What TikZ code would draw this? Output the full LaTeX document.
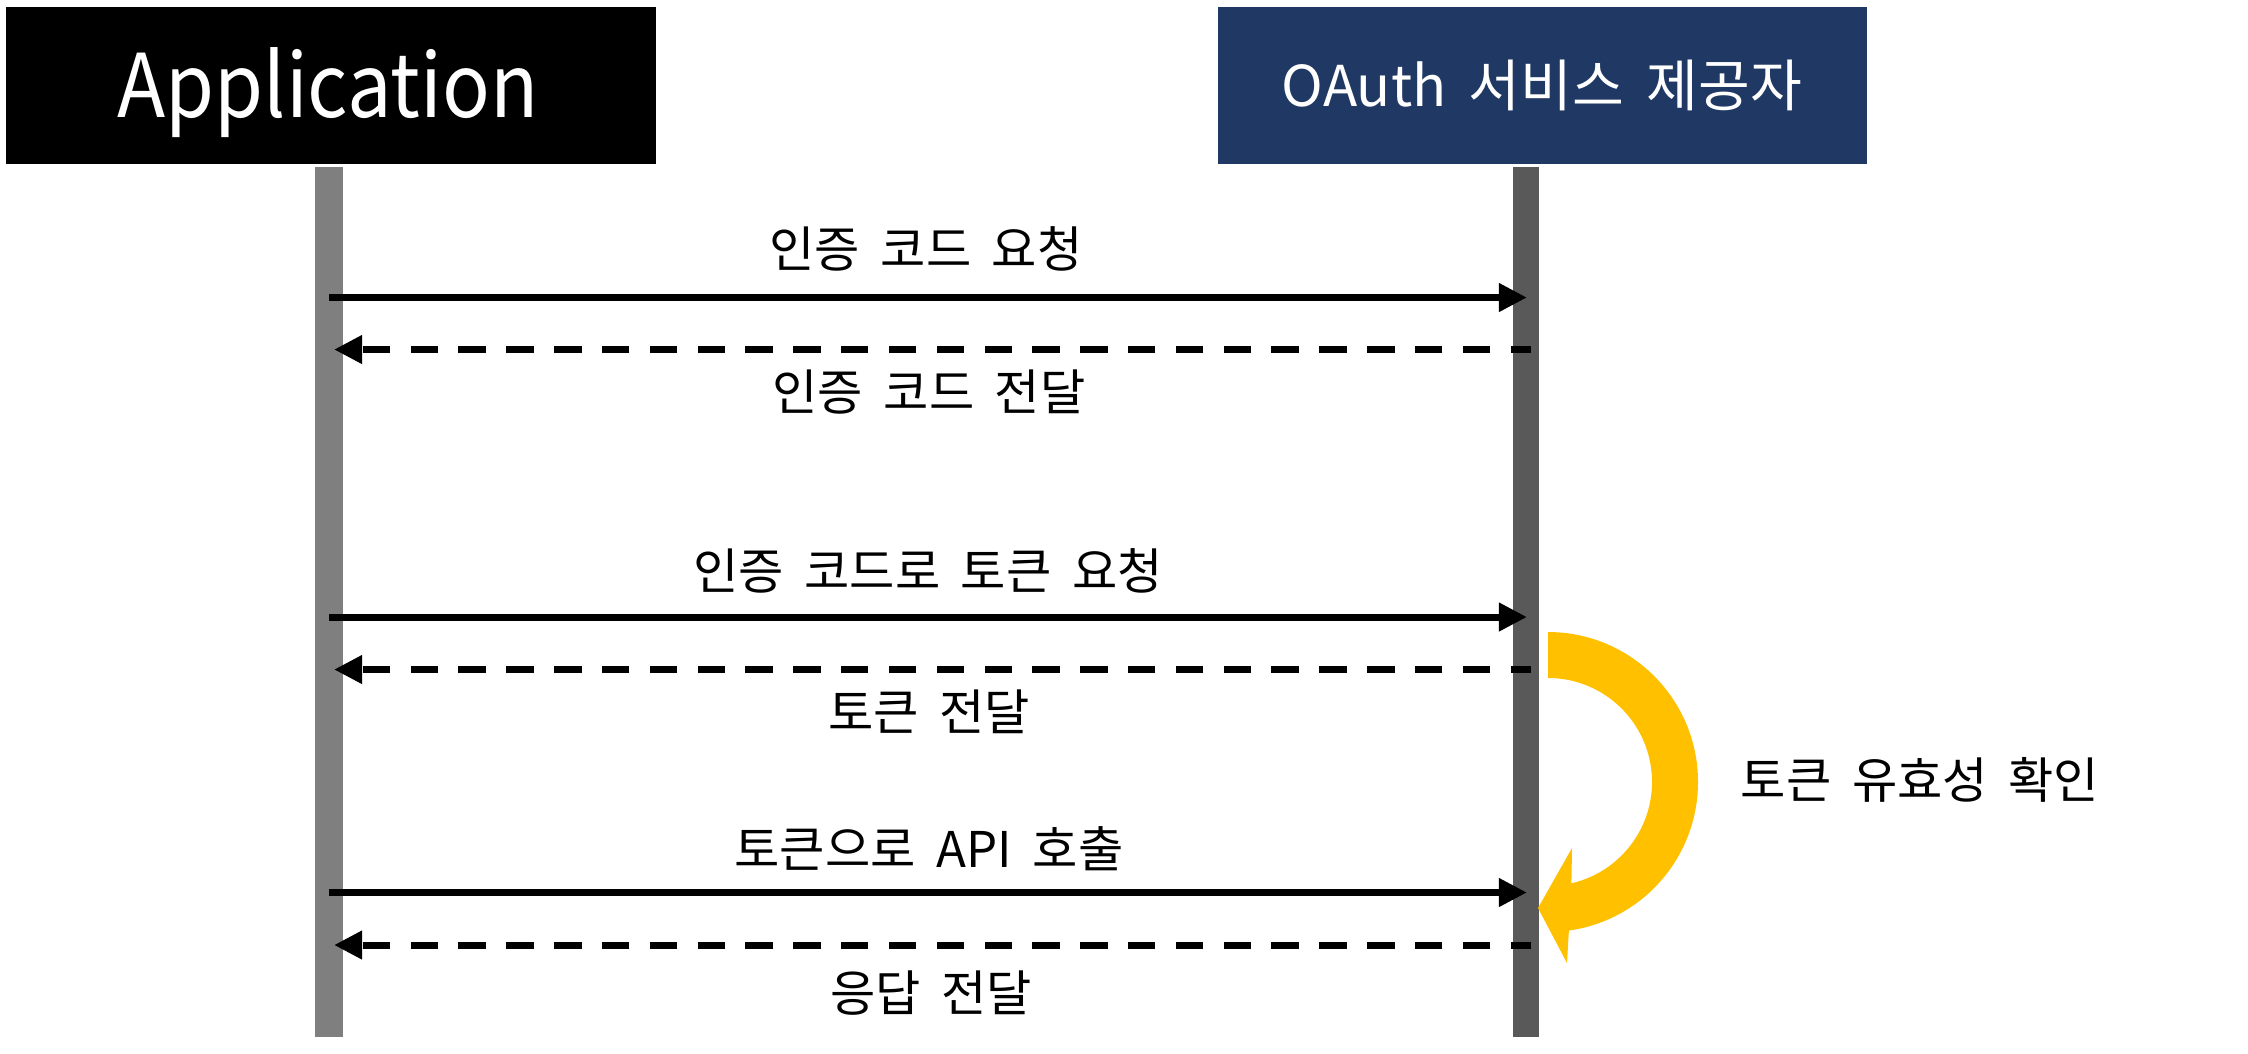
\documentclass[tikz,border=0pt]{standalone}
\usepackage{fontspec}
\setmainfont{Noto Sans CJK KR}
\usetikzlibrary{arrows.meta}
\definecolor{navybox}{HTML}{203864}
\definecolor{lifeA}{HTML}{7F7F7F}
\definecolor{lifeB}{HTML}{595959}
\definecolor{goldarrow}{HTML}{FFC000}
\begin{document}
\begin{tikzpicture}[x=0.01cm,y=-0.01cm,
  headbox/.style={rectangle, inner sep=0, minimum width=6.495cm, minimum height=1.57cm, text=white},
  msg/.style={line width=2pt, -{Triangle[length=8pt,width=7.7pt]}},
  reply/.style={msg, dash pattern=on 7.8pt off 5.8pt, dash phase=2pt},
  lbl/.style={inner sep=0, font=\fontsize{14pt}{16pt}\selectfont, execute at begin node={\spaceskip=0.42em\relax}}]
\useasboundingbox (0,0) rectangle (2248,1053);
% header boxes
\node[headbox, fill=black] (app) at (331,85.5) {};
\node[headbox, fill=navybox] (oauth) at (1542.5,85.5) {};
\node[anchor=base, text=white, inner sep=0, font=\fontsize{25pt}{28pt}\selectfont] (apptext) at (328,117) {\scalebox{0.9}[1]{Application}};
\node[anchor=base, text=white, inner sep=0, font=\fontsize{16pt}{18pt}\selectfont, execute at begin node={\spaceskip=0.4em\relax}] (oauthtext) at (1542,106) {OAuth 서비스 제공자};
% lifelines
\fill[lifeA] (315,167) rectangle (343,1037);
\fill[lifeB] (1513,167) rectangle (1539,1037);
% message end points
\coordinate (L1) at (329,297.5);   \coordinate (R1) at (1527,297.5);
\coordinate (L2) at (334,349.5);   \coordinate (R2) at (1531,349.5);
\coordinate (L3) at (329,617);     \coordinate (R3) at (1527,617);
\coordinate (L4) at (334,669.5);   \coordinate (R4) at (1531,669.5);
\coordinate (L5) at (329,892.5);   \coordinate (R5) at (1527,892.5);
\coordinate (L6) at (334,945);     \coordinate (R6) at (1531,945);
\draw[msg] (L1) -- (R1);
\draw[reply] (R2) -- (L2);
\draw[msg] (L3) -- (R3);
\draw[reply] (R4) -- (L4);
\draw[msg] (L5) -- (R5);
\draw[reply] (R6) -- (L6);
% labels
\node[lbl] (t1) at (926,249) {인증 코드 요청};
\node[lbl] (t2) at (929,392) {인증 코드 전달};
\node[lbl] (t3) at (928,571) {인증 코드로 토큰 요청};
\node[lbl] (t4) at (929,712) {토큰 전달};
\node[lbl] (t5) at (929,849) {토큰으로 API 호출};
\node[lbl] (t6) at (931,993) {응답 전달};
% token validation circular arrow
\fill[goldarrow] (1548,632) arc[start angle=-90, end angle=82, radius=150]
  -- (1567,963) -- (1538,908) -- (1572,848)
  -- (1571.4,883.3) arc[start angle=77, end angle=-90, radius=104] -- cycle;
\node[lbl] (t7) at (1920,780) {토큰 유효성 확인};
\end{tikzpicture}
\end{document}
